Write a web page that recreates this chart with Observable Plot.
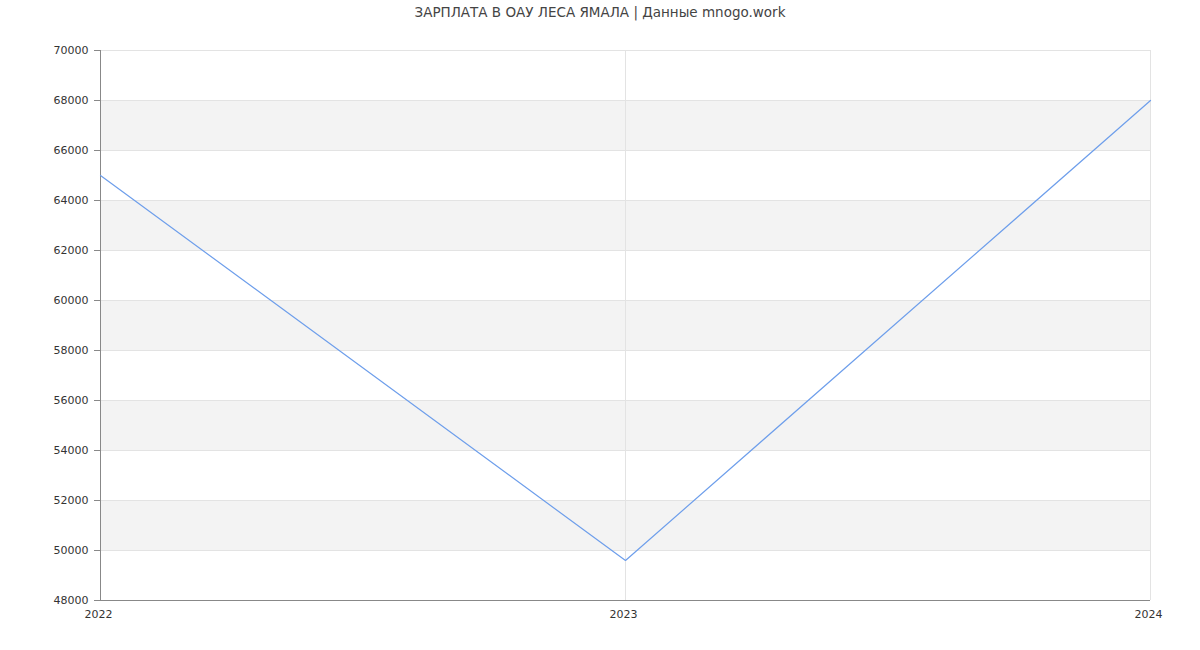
<!DOCTYPE html>
<html>
<head>
<meta charset="utf-8">
<script src="https://cdn.jsdelivr.net/npm/d3@7"></script>
<script src="https://cdn.jsdelivr.net/npm/@observablehq/plot@0.6"></script>
<style>
  body { margin: 0; background: #fff; font-family: "DejaVu Sans", sans-serif; }
  #title { height: 24px; line-height: 24px; text-align: center; font-size: 13.5px; color: #444; }
  svg { display: block; }
</style>
</head>
<body>
<div id="title">ЗАРПЛАТА В ОАУ ЛЕСА ЯМАЛА | Данные mnogo.work</div>
<div id="chart"></div>
<script>
const years = [2022, 2023, 2024];
const salaries = [65000, 49600, 68000];
const yTicks = [48000, 50000, 52000, 54000, 56000, 58000, 60000, 62000, 64000, 66000, 68000, 70000];
const xTicks = [2022, 2023, 2024];

const data = years.map((y, i) => ({year: y, value: salaries[i]}));
const bands = [];
for (let i = 1; i < yTicks.length - 1; i += 2) bands.push({y1: yTicks[i], y2: yTicks[i + 1]});

const chart = Plot.plot({
  width: 1200,
  height: 626,
  marginTop: 26,
  marginBottom: 50,
  marginLeft: 100,
  marginRight: 50,
  style: {fontFamily: "DejaVu Sans, sans-serif", fontSize: "11px", color: "#333", background: "#fff"},
  x: {domain: [2022, 2024], ticks: xTicks, tickFormat: d => String(d), tickSize: 0, tickPadding: 10, label: null},
  y: {domain: [48000, 70000], ticks: yTicks, tickFormat: d => String(d), tickSize: 6, tickPadding: 6, label: null},
  marks: [
    Plot.rectY(bands, {x1: 2022, x2: 2024, y1: "y1", y2: "y2", fill: "#f3f3f3"}),
    Plot.ruleY(yTicks, {stroke: "#e3e3e3", strokeWidth: 1}),
    Plot.ruleX(xTicks.slice(1), {stroke: "#e3e3e3", strokeWidth: 1}),
    Plot.axisY({ticks: yTicks, tickFormat: d => String(d), tickSize: 6, tickPadding: 6, stroke: "#888", label: null, fill: "#333"}),
    Plot.axisX({ticks: xTicks, tickFormat: d => String(d), tickSize: 0, tickPadding: 10, dx: -2, label: null, fill: "#333"}),
    Plot.ruleX([2022], {stroke: "#888"}),
    Plot.ruleY([48000], {stroke: "#888"}),
    Plot.line(data, {x: "year", y: "value", stroke: "#6d9eeb", strokeWidth: 1.2})
  ]
});
document.getElementById("chart").appendChild(chart);
</script>
</body>
</html>
